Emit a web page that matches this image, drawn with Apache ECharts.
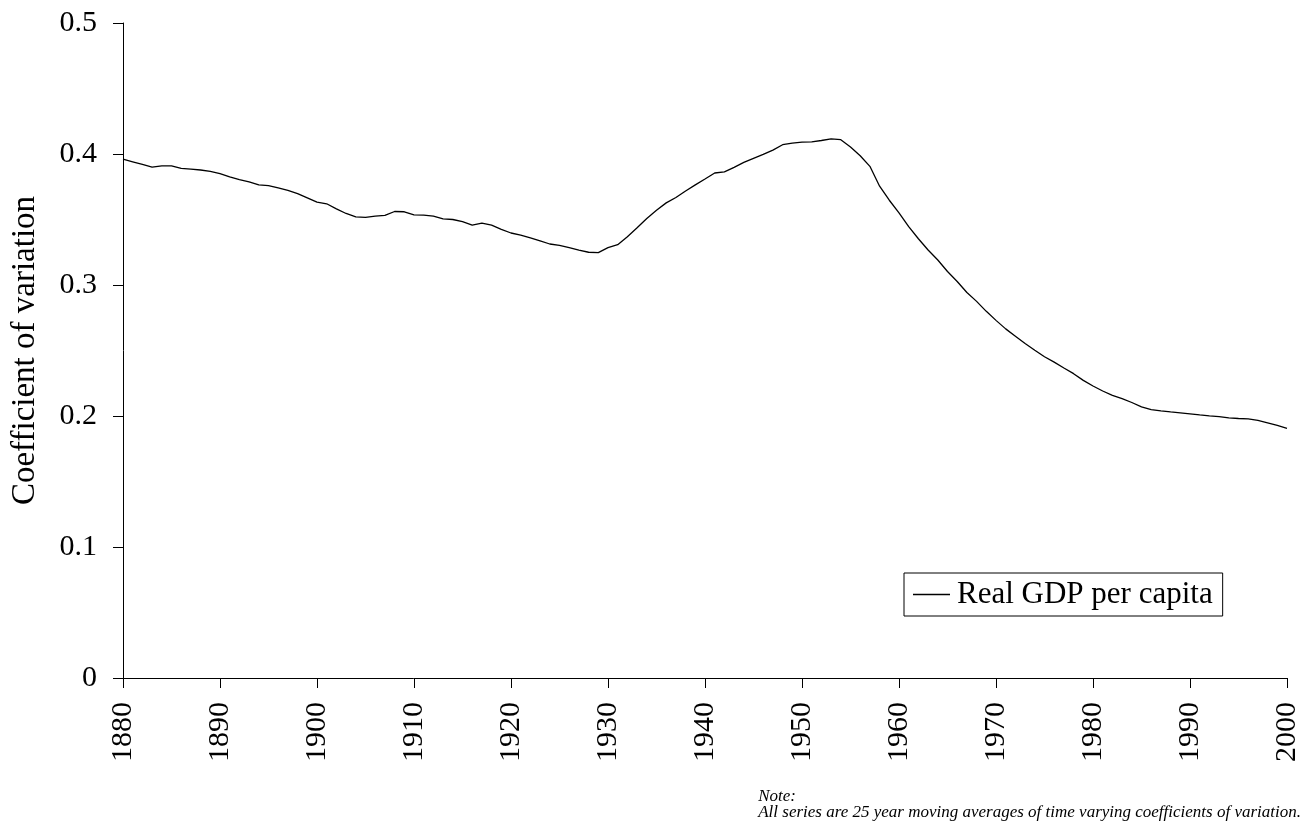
<!DOCTYPE html>
<html><head><meta charset="utf-8">
<script src="https://cdn.jsdelivr.net/npm/echarts@6/dist/echarts.min.js"></script>
<style>html,body{margin:0;padding:0;background:#fff}#c{width:1312px;height:831px}</style>
</head><body><div id="c"></div>
<script>
const startYear = 1880;
const values = [
0.396,0.394,0.392,0.390,0.391,0.391,0.389,0.3885,0.3878,0.3868,
0.385,0.3825,0.3805,0.3787,0.3764,0.3759,0.3741,0.3723,0.3698,0.3665,
0.3632,0.362,0.3581,0.3546,0.352,0.3516,0.3526,0.3531,0.3561,0.3559,
0.3536,0.3533,0.3526,0.3505,0.3500,0.3483,0.3457,0.3473,0.3457,0.3425,
0.3397,0.3381,0.3359,0.3336,0.3313,0.3303,0.3285,0.3267,0.325,0.3247,
0.3285,0.3308,0.3369,0.3437,0.3508,0.3571,0.3627,0.3668,0.3718,0.3764,
0.3809,0.3855,0.3863,0.3898,0.3936,0.3967,0.3997,0.403,0.4071,0.4083,
0.4091,0.4093,0.4103,0.4116,0.4109,0.4053,0.3987,0.3906,0.3754,0.3647,
0.3551,0.3445,0.3353,0.3267,0.3191,0.3103,0.3027,0.2943,0.2875,0.2799,
0.2730,0.2665,0.2609,0.2553,0.2502,0.2452,0.2411,0.2366,0.2323,0.2272,
0.2229,0.2191,0.2158,0.2133,0.2103,0.2069,0.2049,0.2039,0.2031,0.2024,
0.2016,0.2008,0.2001,0.1996,0.1986,0.1981,0.1978,0.1966,0.1948,0.1928,
0.1905
];
const years = values.map((v, i) => startYear + i);
const seriesName = 'Real GDP per capita';
const yAxisName = 'Coefficient of variation';
const noteLines = ['Note:', 'All series are 25 year moving averages of time varying coefficients of variation.'];

const font = '"Liberation Serif","Times New Roman",serif';
const chart = echarts.init(document.getElementById('c'));
chart.setOption({
  animation: false,
  backgroundColor: '#fff',
  grid: {left: 123, right: 25, top: 23, bottom: 153, containLabel: false},
  xAxis: {
    type: 'value', min: 1880, max: 2000, interval: 10,
    axisLine: {show: true, lineStyle: {color: '#000', width: 1}},
    axisTick: {show: true, length: 10, lineStyle: {color: '#000'}},
    splitLine: {show: false},
    axisLabel: {rotate: 90, color: '#000', fontFamily: font, fontSize: 30, margin: 24, formatter: v => String(v)}
  },
  yAxis: {
    type: 'value', min: 0, max: 0.5, interval: 0.1,
    name: yAxisName, nameLocation: 'middle', nameGap: 81, nameRotate: 90,
    nameTextStyle: {color: '#000', fontFamily: font, fontSize: 33},
    axisLine: {show: true, lineStyle: {color: '#000', width: 1}},
    axisTick: {show: true, length: 10, lineStyle: {color: '#000'}},
    splitLine: {show: false},
    axisLabel: {color: '#000', fontFamily: font, fontSize: 30, margin: 26, formatter: v => v === 0 ? '0' : v.toFixed(1)}
  },
  legend: {
    left: 904, top: 573,
    data: [{name: seriesName, icon: 'path://M0,0 L1,0 L1,0.04 L0,0.04 Z'}],
    itemWidth: 37, itemHeight: 1.5, itemGap: 0,
    borderColor: '#000', borderWidth: 1, padding: [6, 10, 6, 9],
    textStyle: {color: '#000', fontFamily: font, fontSize: 31, padding: [0, 0, 0, 2]}
  },
  graphic: [
    {type: 'text', right: 11, top: 788, style: {text: noteLines.join('\n'), font: 'italic 17px ' + font, lineHeight: 16, fill: '#000', align: 'left'}}
  ],
  series: [{
    name: seriesName, type: 'line', showSymbol: false, smooth: false,
    data: years.map((y, i) => [y, values[i]]),
    lineStyle: {color: '#000', width: 1.3},
    itemStyle: {color: '#000'}
  }]
});
</script></body></html>
